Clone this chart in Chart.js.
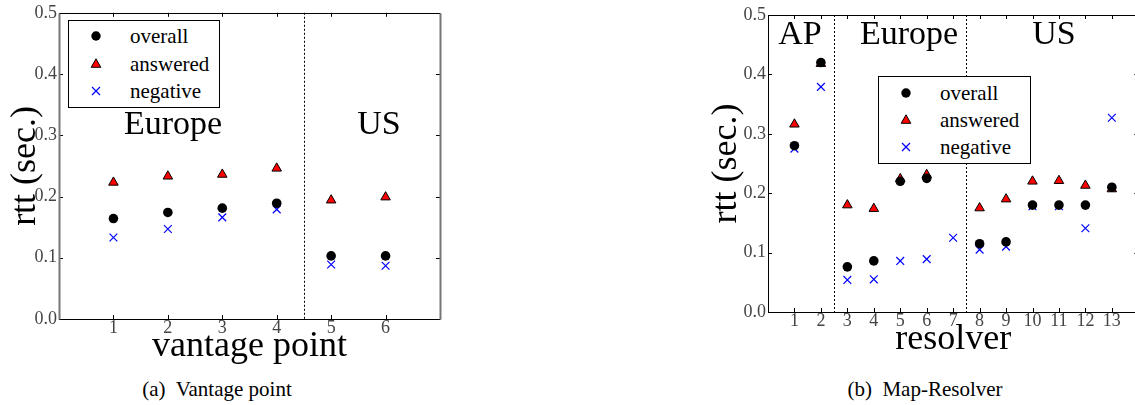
<!DOCTYPE html>
<html lang="en">
<head>
<meta charset="UTF-8">
<title>rtt per vantage point and per Map-Resolver</title>
<script src="https://cdn.jsdelivr.net/npm/chart.js"></script>
<style>
  body {
    margin: 0;
    width: 1135px;
    height: 405px;
    overflow: hidden;
    position: relative;
    background: #fff;
    font-family: "Liberation Serif", serif;
  }
  canvas { position: absolute; top: 0; }
  #chartA { left: 0; }
  #chartB { left: 690px; }
  .region {
    position: absolute;
    font-size: 34px;
    line-height: 1;
    transform: translate(-50%, -50%);
    white-space: nowrap;
  }
  .legend {
    position: absolute;
    background: #fff;
    border: 1px solid #000;
    box-sizing: border-box;
  }
  .legend .row {
    position: absolute;
    font-size: 21px;
    line-height: 1;
    transform: translateY(-50%);
    white-space: nowrap;
  }
  .legend svg { position: absolute; transform: translate(-50%, -50%); }
  .caption {
    position: absolute;
    font-size: 21px;
    line-height: 1;
    transform: translate(-50%, -50%);
    white-space: nowrap;
  }
</style>
</head>
<body>
  <canvas id="chartA" width="470" height="372"></canvas>
  <canvas id="chartB" width="455" height="372"></canvas>

  <div class="region" style="left:173px; top:123px;">Europe</div>
  <div class="region" style="left:379px; top:123px;">US</div>
  <div class="region" style="left:800px; top:33px;">AP</div>
  <div class="region" style="left:909px; top:33px;">Europe</div>
  <div class="region" style="left:1054px; top:33px;">US</div>

  <div class="legend" id="legendA" style="left:68px; top:20px; width:152px; height:88px;"></div>
  <div class="legend" id="legendB" style="left:878px; top:76px; width:153px; height:88px;"></div>

  <div class="caption" style="left:217px; top:389px;">(a)&nbsp; Vantage point</div>
  <div class="caption" style="left:925px; top:389px;">(b)&nbsp; Map-Resolver</div>

<script>
// ---- data ----
const seriesNames = ["overall", "answered", "negative"];
const yTicks = [0, 0.1, 0.2, 0.3, 0.4, 0.5];

const vantagePoints = [1, 2, 3, 4, 5, 6];
const vpOverall  = [0.164, 0.174, 0.181, 0.189, 0.103, 0.103];
const vpAnswered = [0.223, 0.233, 0.236, 0.246, 0.194, 0.199];
const vpNegative = [0.133, 0.147, 0.166, 0.179, 0.089, 0.087];
const vpDividers = [4.5];

const resolvers = [1, 2, 3, 4, 5, 6, 7, 8, 9, 10, 11, 12, 13];
const resOverall  = [0.280, 0.420, 0.076, 0.086, 0.220, 0.225, null, 0.115, 0.118, 0.180, 0.180, 0.180, 0.210];
const resAnswered = [0.316, 0.418, 0.180, 0.174, 0.224, 0.231, null, 0.175, 0.190, 0.220, 0.221, 0.213, 0.207];
const resNegative = [0.275, 0.379, 0.054, 0.055, 0.086, 0.089, 0.125, 0.105, 0.110, 0.178, 0.178, 0.141, 0.327];
const resDividers = [2.5, 7.5];

const serif = "'Liberation Serif', serif";
const tickColor = "#444";

function points(xs, ys) {
  return xs.map((x, i) => ({ x: x, y: ys[i] })).filter(p => p.y !== null);
}

function datasets(xs, overall, answered, negative) {
  return [
    { label: seriesNames[0], data: points(xs, overall), pointStyle: "circle", pointRadius: 4.8,
      backgroundColor: "#000", borderColor: "#000", borderWidth: 0 },
    { label: seriesNames[1], data: points(xs, answered), pointStyle: "triangle", pointRadius: 5.5,
      backgroundColor: "#ff0000", borderColor: "#000", borderWidth: 1 },
    { label: seriesNames[2], data: points(xs, negative), pointStyle: "crossRot", pointRadius: 5.5,
      backgroundColor: "#0000ff", borderColor: "#0000ff", borderWidth: 1.2 }
  ];
}

// frame, inward ticks and dotted region dividers
const framePlugin = {
  id: "frame",
  beforeDatasetsDraw(chart, args, opts) {
    const { ctx, chartArea: a, scales: { x, y } } = chart;
    ctx.save();
    ctx.strokeStyle = "#000";
    ctx.lineWidth = 1;
    ctx.setLineDash([2, 2]);
    opts.dividers.forEach(v => {
      const px = Math.round(x.getPixelForValue(v)) + 0.5;
      ctx.beginPath(); ctx.moveTo(px, a.top); ctx.lineTo(px, a.bottom); ctx.stroke();
    });
    ctx.setLineDash([]);
    ctx.beginPath();
    opts.xTicks.forEach(v => {
      const px = Math.round(x.getPixelForValue(v)) + 0.5;
      ctx.moveTo(px, a.top); ctx.lineTo(px, a.top + 4);
      ctx.moveTo(px, a.bottom); ctx.lineTo(px, a.bottom - 4);
    });
    yTicks.forEach(v => {
      const py = Math.round(y.getPixelForValue(v)) + 0.5;
      ctx.moveTo(a.left, py); ctx.lineTo(a.left + 4, py);
      ctx.moveTo(a.right, py); ctx.lineTo(a.right - 4, py);
    });
    ctx.stroke();
    const side = (c, w, x1, y1, x2, y2) => {
      ctx.strokeStyle = c; ctx.lineWidth = w;
      ctx.beginPath(); ctx.moveTo(x1, y1); ctx.lineTo(x2, y2); ctx.stroke();
    };
    const L = Math.round(a.left) + 0.5, R = Math.round(a.right) + 0.5;
    const T = Math.round(a.top) + 0.5, B = Math.round(a.bottom) + 0.5;
    side("#000", 1, L, T, R, T);
    side("#000", 1, L, B, R, B);
    side(opts.sideColor, opts.sideWidth, L, T, L, B);
    side(opts.sideColor, opts.sideWidth, R, T, R, B);
    ctx.restore();
  }
};

function makeChart(id, cfg) {
  return new Chart(document.getElementById(id), {
    type: "scatter",
    data: { datasets: cfg.datasets },
    plugins: [framePlugin],
    options: {
      responsive: false,
      animation: false,
      devicePixelRatio: 1,
      layout: { padding: cfg.padding },
      plugins: {
        legend: { display: false },
        tooltip: { enabled: false },
        frame: { dividers: cfg.dividers, xTicks: cfg.xTicks, sideColor: cfg.sideColor, sideWidth: cfg.sideWidth }
      },
      scales: {
        x: {
          type: "linear", min: cfg.xRange[0], max: cfg.xRange[1],
          afterBuildTicks: s => { s.ticks = cfg.xTicks.map(v => ({ value: v })); },
          afterFit: s => { s.height = cfg.xHeight; },
          grid: { display: false, drawTicks: false },
          border: { display: false },
          ticks: { color: tickColor, padding: -2, font: { family: serif, size: 18 }, maxRotation: 0,
                   callback: v => String(v) },
          title: { display: true, text: cfg.xTitle, color: "#000",
                   font: { family: serif, size: 36 }, padding: { top: 0, bottom: cfg.xTitlePad } }
        },
        y: {
          type: "linear", min: 0, max: 0.5,
          afterBuildTicks: s => { s.ticks = yTicks.map(v => ({ value: v })); },
          afterFit: s => { s.width = cfg.yWidth; },
          grid: { display: false, drawTicks: false },
          border: { display: false },
          ticks: { color: tickColor, padding: 2, font: { family: serif, size: 18 },
                   callback: v => v.toFixed(1) },
          title: { display: true, text: "rtt (sec.)", color: "#000",
                   font: { family: serif, size: 36 }, padding: { top: cfg.yTitlePad, bottom: 0 } }
        }
      }
    }
  });
}

makeChart("chartA", {
  datasets: datasets(vantagePoints, vpOverall, vpAnswered, vpNegative),
  dividers: vpDividers, xTicks: vantagePoints, xRange: [0, 7],
  padding: { top: 11, right: 30, left: 0, bottom: 0 },
  yWidth: 59, xHeight: 53, xTitle: "vantage point", xTitlePad: 4, yTitlePad: 4,
  sideColor: "#777", sideWidth: 2
});

makeChart("chartB", {
  datasets: datasets(resolvers, resOverall, resAnswered, resNegative),
  dividers: resDividers, xTicks: resolvers, xRange: [0, 14],
  padding: { top: 15, right: 6, left: 0, bottom: 0 },
  yWidth: 78, xHeight: 60, xTitle: "resolver", xTitlePad: 11, yTitlePad: 15,
  sideColor: "#000", sideWidth: 1
});

// legends
function marker(i) {
  if (i === 0) return '<svg width="12" height="12"><circle cx="6" cy="6" r="4.7" fill="#000"/></svg>';
  if (i === 1) return '<svg width="14" height="14"><polygon points="7,1.8 11.8,10.3 2.2,10.3" fill="#ff0000" stroke="#000" stroke-width="1"/></svg>';
  return '<svg width="12" height="12"><path d="M2,2 L10,10 M10,2 L2,10" stroke="#0000ff" stroke-width="1.2"/></svg>';
}
function fillLegend(id, rowYs) {
  const box = document.getElementById(id);
  box.innerHTML = seriesNames.map((name, i) =>
    '<span style="position:absolute; left:27px; top:' + rowYs[i] + 'px;">' + marker(i) + '</span>' +
    '<div class="row" style="left:61px; top:' + rowYs[i] + 'px;">' + name + '</div>'
  ).join("");
}
fillLegend("legendA", [15, 43, 70]);
fillLegend("legendB", [16, 43, 70]);
</script>
</body>
</html>
